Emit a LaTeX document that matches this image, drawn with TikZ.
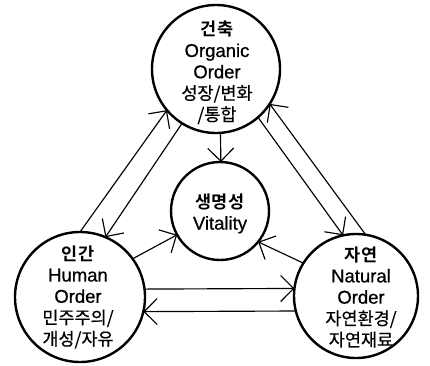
\documentclass[tikz,border=0pt]{standalone}
\usepackage{fontspec}
\setmainfont{Liberation Sans}[FakeBold=0.7]
\newfontfamily\kr{Noto Sans CJK KR}[FakeBold=0.5]
\newfontfamily\krb{Noto Sans CJK KR Bold}
\usetikzlibrary{arrows.meta}
\newcommand\hangul{\kr\fontsize{17.5}{21.3}\selectfont}
\newcommand\hangulb{\krb\fontsize{17.5}{21.3}\selectfont}
\begin{document}
\begin{tikzpicture}[x=1pt,y=-1pt,
  circ/.style={circle,draw,line width=2.4pt,inner sep=0pt,outer sep=0pt},
  conn/.style={line width=1.15pt,-{Straight Barb[length=13pt,width=26pt]}},
  txt/.style={align=center,inner sep=0pt,font=\fontsize{18.5}{21.3}\selectfont}]
\useasboundingbox[fill=white] (0,0) rectangle (430,365);
% circles
\node[circ,minimum size=128pt] (T) at (216,69) {};
\node[circ,minimum size=130pt] (L) at (80,297) {};
\node[circ,minimum size=124pt] (R) at (356,296) {};
\node[circ,minimum size=98pt]  (M) at (220,211) {};
% texts
\node[txt] (tT) at (217,72.5) {{\hangulb 건축}\\Organic\\Order\\{\hangul 성장/변화}\\{\hangul /통합}};
\node[txt] (tL) at (78,297) {{\hangulb 인간}\\Human\\Order\\{\hangul 민주주의/}\\{\hangul 개성/자유}};
\node[txt] (tR) at (361,297) {{\hangulb 자연}\\Natural\\Order\\{\hangul 자연환경/}\\{\hangul 자연재료}};
\node[txt] (tM) at (220,213.5) {{\hangulb 생명성}\\Vitality};
% connectors top-left
\draw[conn] (L.90) -- (T.220);
\draw[conn] (T.238) -- (L.67.4);
% top-right
\draw[conn] (T.311) -- (R.102.9);
\draw[conn] (R.81.9) -- (T.327);
% bottom
\draw[conn] (L.7.07) -- (R.173.5);
\draw[conn] (R.194) -- (L.347.6);
% to middle
\draw[conn] (T.274.5) -- (M.89);
\draw[conn] (L.36.3) -- (M.209.2);
\draw[conn] (R.148) -- (M.321.7);
\end{tikzpicture}
\end{document}
